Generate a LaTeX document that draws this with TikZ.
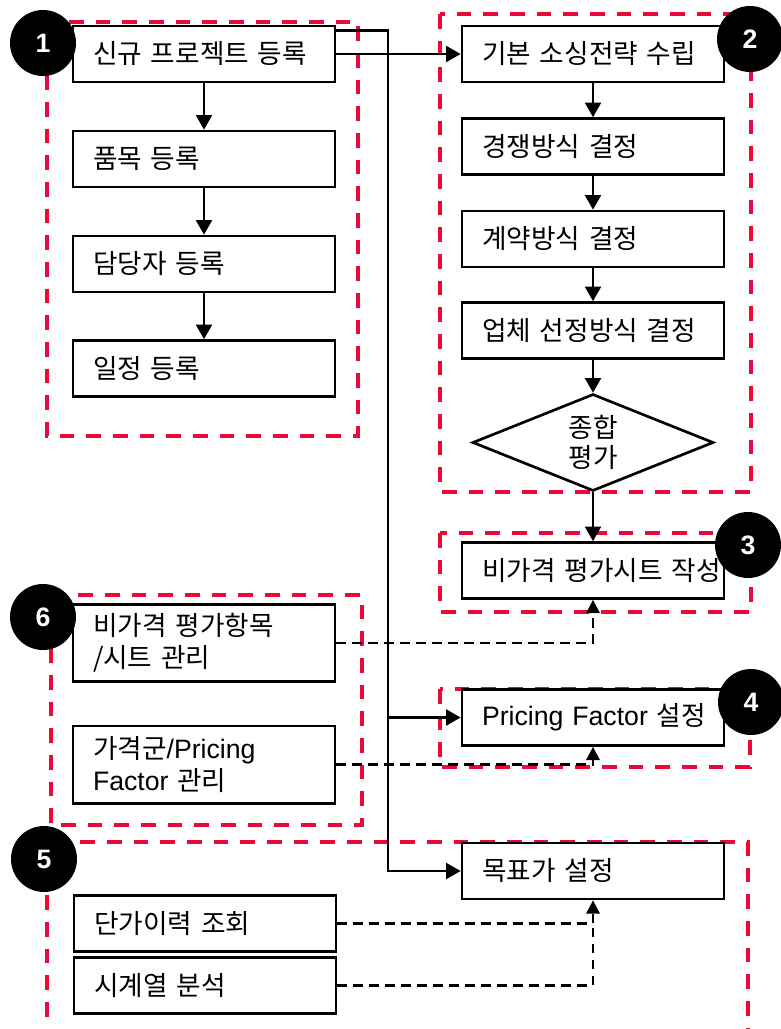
\documentclass[tikz,border=0pt]{standalone}
\usepackage{fontspec}
\setmainfont{Noto Sans CJK KR}[WordSpace=2.4]
\newfontfamily\lat{Liberation Sans}
\usepackage{tikz}
\usetikzlibrary{arrows.meta,shapes.geometric,positioning}
\definecolor{grpred}{RGB}{235,10,55}

\tikzset{
  task/.style={draw, line width=2pt, fill=white, text width=166.5pt, inner xsep=15pt, inner ysep=0pt,
               minimum height=42pt, align=left, font=\fontsize{20}{24}\selectfont},
  tall/.style={minimum height=58pt},
  group/.style={grpred, line width=3.3pt, dash pattern=on 11pt off 9pt},
  flow/.style={line width=1.8pt, -{Triangle[length=11pt,width=12pt]}},
  link/.style={line width=1.8pt, dash pattern=on 7pt off 5pt, -{Triangle[length=10pt,width=10pt]}},
  badge/.style={circle, fill=black, minimum size=49.5pt, inner sep=0pt, text=white,
                font=\lat\bfseries\fontsize{20}{20}\selectfont},
}

\begin{document}
\begin{tikzpicture}[x=0.75pt, y=-0.75pt]
 \useasboundingbox (0,0) rectangle (781,1029);

 %red groups
 \foreach \xa/\ya/\xb/\yb in {47/22/358/436, 440/14/751/492, 440/533/751/612,
                              440/689/750/767, 47/842/748/1045, 51/595/362/825} {
         \draw[group] (\xa,\ya) rectangle (\xb,\yb);
 }

 %project registration
 \foreach \y/\name/\txt in {54/new/신규 프로젝트 등록, 159/item/품목 등록, 264/staff/담당자 등록, 368.5/sched/일정 등록} {
         \node[task] (\name) at (204,\y) {\txt};
 }

 %sourcing strategy
 \foreach \y/\name/\txt in {54/base/기본 소싱전략 수립, 146.5/comp/경쟁방식 결정, 239/contract/계약방식 결정,
                            330.5/vendor/업체 선정방식 결정} {
         \node[task] (\name) at (593,\y) {\txt};
 }
 \node[draw, diamond, line width=2pt, fill=white, minimum width=180.75pt, minimum height=72.75pt,
       inner sep=0pt, aspect=2.5, align=center, font=\fontsize{20}{23}\selectfont] (eval) at (593,442.5) {종합\\평가};
 \node[task] (sheet) at (593,570.5) {\mbox{비가격 평가시트 작성}};
 \node[task] (pf) at (593,717.5) {\mbox{{\lat Pricing Factor} 설정}};
 \node[task] (target) at (593,871) {목표가 설정};

 %master data
 \node[task, tall] (nonprice) at (204,643) {비가격 평가항목\\/시트 관리};
 \node[task, tall] (pricegrp) at (204,764.5) {가격군{\lat /Pricing}\\{\lat Factor} 관리};
 \node[task] (hist) at (205,923.5) {단가이력 조회};
 \node[task] (series) at (205,985.5) {시계열 분석};

 %arrows
 \foreach \a/\b in {new/item, item/staff, staff/sched, base/comp, comp/contract, contract/vendor, vendor/eval, eval/sheet} {
         \draw[flow] (\a) -- (\b);
 }
 \draw[flow] (new.east) -- (base.west);
 \coordinate (bus) at (388,717.5);
 \draw[flow] ([yshift=-4.5pt]new.north east) -| (bus) |- (target.west);
 \draw[flow] (bus) -- (pf.west);

 %dashed links
 \draw[link] (nonprice.east) -| (sheet.south);
 \draw[link] (pricegrp.east) -| (pf.south);
 \draw[link] (hist.east) -| (target.south);
 \draw[link, -] (series.east) -| (target.south |- hist.east);

 %numbers
 \foreach \x/\y/\num in {43/43/1, 750/39/2, 748/545/3, 751/702/4, 44/859/5, 43/617/6} {
         \node[badge] (badge\num) at (\x,\y) {\num};
 }

\end{tikzpicture}
\end{document}
